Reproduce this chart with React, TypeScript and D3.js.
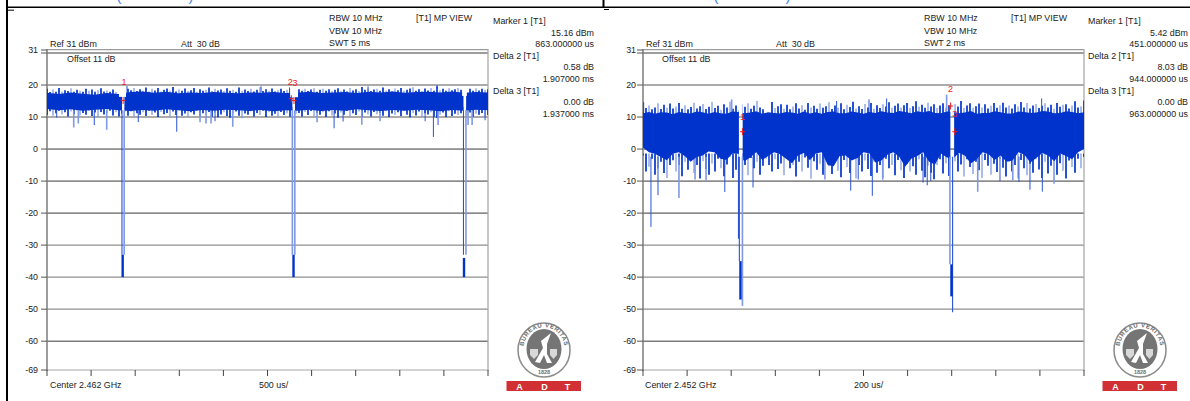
import React from "react";
import * as d3 from "d3";

const FONT = "'Liberation Sans', Arial, sans-serif";
const gridDb = [30, 20, 10, 0, -10, -20, -30, -40, -50, -60];
const darkGridDb = [30, 0, -10, -20, -60];
const yTickDb = [31, 20, 10, 0, -10, -20, -30, -40, -50, -60, -69];
const xDivisions = [0, 1, 2, 3, 4, 5, 6, 7, 8, 9, 10];

// Left trace (dB)
const leftTop = [18.8,17.8,18.6,17.9,19.1,18.0,18.4,18.1,19.0,17.9,18.5,18.2,17.9,18.8,18.2,18.6,17.9,18.4,19.0,18.0,18.3,17.9,18.6,17.8,17.2,16.5,19.7,18.8,18.4,19.1,18.1,18.7,18.2,19.2,17.9,18.8,18.3,19.1,18.0,18.5,18.9,18.2,19.4,18.0,18.6,18.2,18.9,18.1,18.4,19.1,17.9,18.7,18.2,18.5,19.2,18.0,18.8,18.3,18.6,18.1,19.0,18.2,18.5,17.9,19.2,18.2,18.6,18.1,18.8,18.0,18.5,19.3,18.1,18.7,18.2,18.9,18.0,18.4,18.8,18.1,18.5,19.2,19.1,17.5,18.7,18.2,18.8,18.1,18.6,19.0,17.9,18.5,18.8,18.2,18.7,18.1,18.5,19.0,18.2,18.6,18.0,19.1,18.3,18.7,18.1,19.4,18.5,18.9,18.1,18.6,18.8,18.2,19.2,18.3,18.7,18.0,18.9,18.4,19.1,18.2,18.5,18.9,19.3,18.2,18.7,18.1,18.9,18.3,19.1,18.2,19.6,18.4,18.8,18.2,19.0,18.4,18.7,19.1,18.5,17.2,17.0,18.8,18.2,19.0,18.3,18.8,18.5,18.7];
const leftBottom = [10.6,11.8,10.4,11.2,12.0,10.8,11.5,10.2,11.7,10.9,12.1,10.5,11.3,10.7,11.9,10.3,11.4,10.0,11.6,10.8,11.2,12.0,10.5,11.5,10.2,11.0,11.7,10.4,11.8,10.1,11.2,10.7,11.5,10.3,12.0,10.6,11.4,10.0,11.6,10.9,11.3,10.2,11.7,10.6,12.1,10.4,11.1,10.0,11.5,10.8,11.9,10.3,11.2,10.7,11.6,10.1,11.4,9.9,10.8,11.5,10.3,9.8,10.9,11.7,10.4,9.6,11.1,10.7,11.8,10.2,11.3,10.6,12.0,10.0,11.5,10.4,11.0,9.9,11.6,10.6,11.2,10.1,10.5,11.0,11.3,10.2,11.6,10.6,11.9,10.1,11.3,10.7,11.5,10.0,11.8,10.5,11.1,9.8,11.4,10.7,11.9,10.2,11.2,10.6,11.7,10.0,11.4,10.8,10.2,11.6,10.9,11.3,10.4,11.8,10.0,11.1,10.6,11.5,10.3,11.9,10.7,9.9,11.3,10.5,11.7,10.0,11.2,10.8,11.5,10.1,9.7,10.7,11.4,10.0,11.8,10.3,11.0,10.6,11.2,9.9,10.5,11.4,10.1,11.0,10.7,11.3,10.0,10.6];
const leftCoreTop = [17.6,17.2,17.7,17.3,17.0,17.5,17.2,17.8,18,17.6,17.9,17.4,17.7,17.5,17.8,17.6,17.4,17.7,17.6,17.8,17.5,17.6,17.9,17.5,17.7,17.8,17.5,17.9,17.7,18,17.6,17.8,17.9,17.7,18,17.6,17.8,17.7];
const leftCoreBottom = [12.5,12.1,12.4,12,12.3,12.5,12.1,11.9,12.2,12,12.4,12.1,11.8,12.2,12,12.3,12.1,11.9,12.2,11.8,12.1,12,12.3,11.9,12.2,12,12.4,12.1,11.9,12.2,12,12.3,12.1,11.8,12.2,12,12.3,12.1];

// Right trace (dB)
const rightTop = [14.6,12.8,13.6,12.4,13.0,14.3,12.5,13.8,12.9,14.2,12.7,13.3,14.4,12.6,13.7,12.4,13.1,14.5,12.7,13.4,14.1,12.5,13.2,14.7,12.8,13.5,12.3,14.0,13.0,14.8,12.6,13.6,12.2,13.9,13.2,14.3,12.6,13.5,15.0,13.0,12.4,11.0,11.2,14.7,12.8,13.4,14.0,12.6,13.8,12.4,13.3,14.3,12.7,13.7,12.3,14.4,13.0,13.5,12.6,14.2,12.9,13.4,14.6,12.5,13.6,12.9,14.3,12.4,13.8,13.1,14.8,12.7,13.4,12.5,14.1,13.0,14.4,12.6,13.7,12.8,14.0,13.3,14.6,12.9,13.5,14.2,13.0,13.7,14.4,12.8,13.4,14.9,13.2,13.8,12.9,14.5,13.3,14.0,12.8,13.6,14.3,13.0,13.7,12.6,14.1,13.3,15.0,12.8,13.6,14.3,12.9,13.4,14.2,13.0,14.0,12.7,13.5,14.4,12.9,13.7,14.5,13.0,13.6,12.7,14.0,13.3,14.7,13.0,14.4,12.7,13.6,14.1,12.8,13.5,14.3,13.0,13.8,12.6,14.4,13.2,13.8,14.0,12.7,13.6,14.9,13.0,13.4,15.2];
const rightBottom = [-2,-7,-5.5,-3,-8,-6,-4,-7.5,-9,-5,-3.5,-7,-5,-8.5,-4,-6.5,-3,-7.5,-5,-9.2,-3.8,-6.2,-8,-4.5,-7,-3,-6,-8.5,-4.8,-2.5,-9,-6.5,-3.6,-7.2,-5,-8.2,-2.8,-6,-4,-8,-5.2,-3,-5,-7,-3.2,-6.2,-4.5,-8.2,-3,-6,-5,-8.6,-4,-7,-2.6,-5.8,-9.3,-3.8,-6.5,-4.6,-8,-3.2,-5.4,-7.8,-4,-6.8,-8.8,-3.4,-5.6,-7.5,-3,-9.2,-5,-7,-3.6,-6.2,-8.4,-4,-7.4,-5,-9,-3,-6,-5,-8.2,-3.4,-6.6,-9,-4.6,-7,-5.4,-8,-3.2,-6.8,-8.8,-5.2,-7.4,-9.4,-5,-3.2,-7.6,-4.4,-8.4,-6,-3.8,-7,-4.8,-8.6,-3.2,-5.6,-7.8,-4,-6.6,-9,-3.4,-5.2,-8,-4.6,-7.2,-3,-5.8,-8.6,-4,-7,-5,-9.2,-3.4,-6,-8.2,-4.6,-7.4,-3.2,-6.4,-9,-4,-7.6,-5.2,-3,-8,-4.4,-6.8,-9.2,-3.6,-5.6,-7.4,-3,-6,-2.5];
const rightCoreTop = [11.2,11.6,11,11.5,11.4,10.9,11.6,11.3,11.1,11.7,11.5,11,11.6,11.2,11,11.7,11.6,11.2,11.4,11.8,11,11.5,11.3,11.1,11.6,11.4,11,11.7,11.1,11.5,11,11.6,11.7,11.2,11.2,11.7,11.4,11,11.6,11.3,11.8,11.4,11.3,11.9,11.6,11.2,11.8,11.5,11.9,11.3,11.2,11.7,11.6,11.2,11.4,11.9,11,11.3,11.3,11.8,11.5,11.1,11.1,11.7,11.6,11.3,11.4,11.9,11.7,11.2,11.3,11.8,11.6,11.2,11.5];
const rightCoreBottom = [0.5,-1,-1.5,-2.5,-3.5,-1.5,-1,-2.2,-4,-2.5,-2,-0.8,-1,-3,-3.4,-1.4,-1.5,-3.8,-2.6,-1,-3.4,-2.2,-1,-1.6,-3,-4.4,-2,-1.2,-3.5,-1.4,-1,-5,-5.4,-2.2,-2,-3.6,-2.8,-1,-1.4,-4.2,-3.6,-1.8,-1,-2.4,-5.5,-3,-2.2,-1,-4,-4.8,-1.4,-2.6,-3,-1.2,-2,-4.5,-3.2,-1,-1.6,-3.4,-2,-4,-3.6,-1,-1.8,-4.2,-2.8,-1.2,-2,-3.8,-1.4,-2.2,-3.2,-1,0];

// Isolated deep dips and tall peaks: time (us), level (dB), 1 = pale
const leftSpikeTime = [110,303,355,536,677,1035,1471,1735,1803,1860,1905,2106,3062,3255,3357,3569,3776,4287,4381,4434,4774,4820,4967,907,2427,2756,3640,4423];
const leftSpikeDb = [9.8,6.7,8,7.5,6,8.4,5.4,8.4,8,8,8.7,7,8.4,6.5,8.6,7.6,8.7,8.7,3.8,7.5,7.5,7.5,9,19.7,19.6,19,19.6,20];
const leftSpikePale = [0,1,1,0,1,0,0,1,1,1,0,1,1,0,0,1,1,0,0,1,1,1,0,0,0,0,0,0];
const rightSpikeTime = [36,68,163,236,286,371,499,825,942,976,1040,1087,1270,1289,1305,1518,1619,1677,1705,1755,1811,1864,3,402,878,1025,1105,1377,1808];
const rightSpikeDb = [-24.3,-14.4,-15.3,-9.5,-9.8,-13.4,-12,-9.5,-13,-9.5,-14.6,-9.6,-10.5,-11.3,-10,-13.3,-10,-9.7,-10.3,-12.7,-13.3,-10.8,14.5,15.5,15,15.5,15.8,17,15.8];
const rightSpikePale = [0,0,1,1,1,0,0,1,0,0,0,1,0,0,0,1,0,1,0,0,0,1,0,1,0,0,0,1,0];

// Pulse-off gaps (us) and the trace walls that drop into them: time, level reached, 1 = pale
const leftGapStart = [850, 2782, 4722];
const leftGapEnd = [878, 2812, 4752];
const leftNotchStart = [816, 2756, 4706];
const leftNotchEnd = [896, 2846, 4760];
const leftNotchDb = [16.3, 16.2, 16.6];
const leftWallTime = [850, 875, 2782, 2810, 4722, 4750];
const leftWallDb = [-33, -33, -33, -33, -33, -33];
const leftWallPale = [0, 1, 1, 1, 0, 1];
const leftFloorTime = [858, 2795, 4728];
const leftFloorTop = [-33, -33, -34];
const leftFloorBottom = [-40, -40, -40];
const rightGapStart = [435, 1394];
const rightGapEnd = [452, 1411];
const rightWallTime = [433, 437, 451, 1392, 1404];
const rightWallDb = [-28, -35, -49, -36, -51];
const rightWallPale = [0, 0, 1, 1, 0];
const rightFloorTime = [442, 1399];
const rightFloorTop = [-35, -36];
const rightFloorBottom = [-47, -46];

type PanelProps = {
  id: string; left: number; right: number; labelEnd: number; span: number;
  top: number[]; bottom: number[]; coreTop: number[]; coreBottom: number[];
  spikeTime: number[]; spikeDb: number[]; spikePale: number[];
  gapStart: number[]; gapEnd: number[];
  notchStart: number[]; notchEnd: number[]; notchDb: number[];
  wallTime: number[]; wallDb: number[]; wallPale: number[];
  floorTime: number[]; floorTop: number[]; floorBottom: number[];
  rbwX: number; viewX: number; legendX: number; legendEnd: number;
  refX: number; attX: number; offsetX: number; centerX: number; perDivX: number;
  swt: string; center: string; perDiv: string;
  readout: string[];
  markerTime: number[]; markerDb: number[]; markerLabelDb: number[]; markerLabelNudge: number[];
};

const DARK = "#0033cc";
const PALE = "#7f99e4";

function Txt({ x, y, anchor, children, fill = "#222", size = 8.9 }: any) {
  return <text x={x} y={y} textAnchor={anchor} fill={fill} fontSize={size} fontFamily={FONT}>{children}</text>;
}

function Logo({ cx, id }: { cx: number; id: string }) {
  const cy = 350;
  return (
    <g>
      <ellipse cx={cx} cy={cy} rx={26} ry={27} fill="#fff" stroke="#8a8a8a" strokeWidth={1.5} />
      <ellipse cx={cx} cy={cy - 1} rx={17.5} ry={20} fill="#757575" />
      <path id={id + "arc"} d={`M ${cx - 20} ${cy + 4} A 20.5 22 0 1 1 ${cx + 20} ${cy + 4}`} fill="none" />
      <text fontSize={6} fontWeight="bold" fill="#6e6e6e" fontFamily={FONT} letterSpacing={0.55}>
        <textPath href={`#${id}arc`} startOffset="50%" textAnchor="middle">BUREAU VERITAS</textPath>
      </text>
      <text x={cx} y={cy + 24} textAnchor="middle" fontSize={5.5} fontWeight="bold" fill="#6e6e6e" fontFamily={FONT}>1828</text>
      <path d={`M ${cx - 9} ${cy + 12} L ${cx - 1} ${cy - 2} L ${cx - 3} ${cy - 9} L ${cx + 7} ${cy - 17} L ${cx + 3} ${cy - 6} L ${cx + 3} ${cy + 4} L ${cx + 8} ${cy + 13} L ${cx + 3} ${cy + 13} L ${cx} ${cy + 5} L ${cx - 4} ${cy + 13} Z`} fill="#fff" />
      <path d={`M ${cx - 14} ${cy - 1} H ${cx - 6} V ${cy + 5} L ${cx - 10} ${cy + 9} L ${cx - 14} ${cy + 5} Z`} fill="#d8d8d8" />
      <path d={`M ${cx + 6} ${cy - 1} H ${cx + 13} V ${cy + 5} L ${cx + 9.5} ${cy + 9} L ${cx + 6} ${cy + 5} Z`} fill="#d8d8d8" />
      <rect x={cx - 37.5} y={381} width={74.5} height={10} fill="#d13034" />
      {[["A", -24.5], ["D", 0.5], ["T", 23.5]].map(([s, o]) => (
        <text key={s as string} x={cx + (o as number)} y={389.5} textAnchor="middle" fontSize={9} fontWeight="bold" fill="#fff" fontFamily={FONT}>{s}</text>
      ))}
    </g>
  );
}

function Panel(p: PanelProps) {
  const yScale = d3.scaleLinear().domain([30, -69]).range([53, 370]);
  const xScale = d3.scaleLinear().domain([0, p.span]).range([p.left, p.right]);
  const sampleTime = d3.scaleLinear().domain([0, p.top.length - 1]).range([0, p.span]);
  const coreTime = d3.scaleLinear().domain([0, p.coreTop.length - 1]).range([0, p.span]);
  const core = d3.area<number>()
    .x((_, i) => xScale(coreTime(i)))
    .y0((_, i) => yScale(p.coreBottom[i]))
    .y1((d) => yScale(d))
    .curve(d3.curveLinear);
  const midTop = d3.mean(p.coreTop)!;
  const midBottom = d3.mean(p.coreBottom)!;

  const edges = [0, ...p.gapEnd];
  const ends = [...p.gapStart, p.span];

  return (
    <g>
      <clipPath id={p.id + "clip"}>
        {edges.map((s, i) => (
          <rect key={i} x={xScale(s)} y={0} width={xScale(ends[i]) - xScale(s)} height={401} />
        ))}
      </clipPath>

      {gridDb.map((v) => (
        <line key={v} x1={p.left} x2={p.right} y1={yScale(v)} y2={yScale(v)}
          stroke={darkGridDb.includes(v) ? "#3a3a3a" : "#8f8f8f"} strokeWidth={darkGridDb.includes(v) ? 1 : 1.4} />
      ))}
      <line x1={p.left} x2={p.right} y1={49.6} y2={49.6} stroke="#9a9a9a" strokeWidth={1.2} />
      <line x1={p.left} x2={p.right} y1={yScale(-69)} y2={yScale(-69)} stroke="#a8a8a8" strokeWidth={1.2} />
      <line x1={p.left} x2={p.left} y1={49} y2={371} stroke="#7c7c7c" strokeWidth={1.5} />
      <line x1={p.right} x2={p.right} y1={49} y2={371} stroke="#ababab" strokeWidth={1.3} />

      {yTickDb.map((v) => (
        <g key={v}>
          <line x1={p.left - 6} x2={p.left} y1={v === 31 ? 50 : yScale(v)} y2={v === 31 ? 50 : yScale(v)} stroke="#555" />
          <Txt x={p.labelEnd} y={(v === 31 ? 50 : yScale(v)) + 3} anchor="end">{v}</Txt>
        </g>
      ))}
      <line x1={p.left - 6} x2={p.left} y1={53} y2={53} stroke="#555" />
      {xDivisions.map((d) => {
        const x = xScale((d * p.span) / 10);
        return <line key={d} x1={x} x2={x} y1={370} y2={376} stroke="#444" />;
      })}

      <g clipPath={`url(#${p.id}clip)`}>
        {p.top.map((v, i) => {
          const x = xScale(sampleTime(i));
          const pale = i % 3 === 2;
          return (
            <g key={i} stroke={pale ? PALE : DARK} strokeWidth={pale ? 1.3 : 1.7}>
              <line x1={x} x2={x} y1={yScale(v)} y2={yScale(midTop - 1)} />
              <line x1={x} x2={x} y1={yScale(p.bottom[i])} y2={yScale(midBottom + 1)} />
            </g>
          );
        })}
        {p.spikeTime.map((t, i) => {
          const x = xScale(t);
          const up = p.spikeDb[i] > midTop;
          return <line key={i} x1={x} x2={x} y1={yScale(p.spikeDb[i])}
            y2={yScale(up ? midTop : midBottom)}
            stroke={p.spikePale[i] ? PALE : "#2a52d4"} strokeWidth={p.spikePale[i] ? 1.6 : 1} />;
        })}
        <path d={core(p.coreTop) ?? ""} fill={DARK} />
      </g>

      {p.notchStart.map((s, i) => (
        <rect key={i} x={xScale(s)} y={yScale(20) + 1} width={xScale(p.notchEnd[i]) - xScale(s)}
          height={yScale(p.notchDb[i]) - yScale(20) - 1} fill="#fff" />
      ))}

      {p.wallTime.map((t, i) => (
        <line key={i} x1={xScale(t)} x2={xScale(t)} y1={yScale(midBottom)} y2={yScale(p.wallDb[i])}
          stroke={p.wallPale[i] ? PALE : "#2a52d4"} strokeWidth={p.wallPale[i] ? 1.6 : 1.1} />
      ))}
      {p.floorTime.map((t, i) => (
        <line key={i} x1={xScale(t)} x2={xScale(t)} y1={yScale(p.floorTop[i])} y2={yScale(p.floorBottom[i])}
          stroke={DARK} strokeWidth={2.4} />
      ))}

      {p.markerTime.map((t, i) => {
        const x = xScale(t);
        const y = yScale(p.markerDb[i]);
        return (
          <g key={i}>
            <path d={`M${x - 2.5} ${y}H${x + 2.5}M${x} ${y - 3.5}V${y + 3.5}`} stroke="#f01c1c" strokeWidth={1} fill="none" />
            <text x={x + p.markerLabelNudge[i]} y={yScale(p.markerLabelDb[i])} textAnchor="middle" fontSize={9} fill="#ee2020" fontFamily={FONT}>{i + 1}</text>
          </g>
        );
      })}

      <Txt x={p.rbwX} y={21}>RBW 10 MHz</Txt>
      <Txt x={p.rbwX} y={34}>VBW 10 MHz</Txt>
      <Txt x={p.rbwX} y={46}>{p.swt}</Txt>
      <Txt x={p.viewX} y={21}>[T1] MP VIEW</Txt>
      <Txt x={p.refX} y={47}>Ref 31 dBm</Txt>
      <Txt x={p.attX} y={47}>{"Att\u00a0\u00a030 dB"}</Txt>
      <Txt x={p.offsetX} y={62}>Offset 11 dB</Txt>
      <Txt x={p.centerX} y={388}>{p.center}</Txt>
      <Txt x={p.perDivX} y={388}>{p.perDiv}</Txt>
      {p.readout.map((s, i) => (
        <Txt key={i} x={i % 3 === 0 ? p.legendX : p.legendEnd} y={24 + i * 11.6} anchor={i % 3 === 0 ? "start" : "end"}>{s}</Txt>
      ))}
      <Logo cx={p.left + 497} id={p.id} />
    </g>
  );
}

export default function App() {
  return (
    <svg width={1190} height={401} viewBox="0 0 1190 401"
      style={{ position: "absolute", left: 0, top: 0, background: "#fff" }}>
      <rect width={1190} height={401} fill="#fff" />
      <Panel id="a" left={47} right={488} labelEnd={38} span={5000}
        top={leftTop} bottom={leftBottom} coreTop={leftCoreTop} coreBottom={leftCoreBottom}
        spikeTime={leftSpikeTime} spikeDb={leftSpikeDb} spikePale={leftSpikePale}
        gapStart={leftGapStart} gapEnd={leftGapEnd}
        notchStart={leftNotchStart} notchEnd={leftNotchEnd} notchDb={leftNotchDb}
        wallTime={leftWallTime} wallDb={leftWallDb} wallPale={leftWallPale}
        floorTime={leftFloorTime} floorTop={leftFloorTop} floorBottom={leftFloorBottom}
        rbwX={329} viewX={416} legendX={493} legendEnd={594}
        refX={50} attX={181} offsetX={67} centerX={50} perDivX={259}
        swt="SWT 5 ms" center="Center 2.462 GHz" perDiv="500 us/"
        readout={["Marker 1 [T1]", "15.16 dBm", "863.000000 us", "Delta 2 [T1]", "0.58 dB", "1.907000 ms", "Delta 3 [T1]", "0.00 dB", "1.937000 ms"]}
        markerTime={[863, 2770, 2800]} markerDb={[15.16, 15.74, 15.16]} markerLabelDb={[19.9, 19.9, 19.8]} markerLabelNudge={[1, -1, 1]} />
      <Panel id="b" left={643} right={1084} labelEnd={636} span={2000}
        top={rightTop} bottom={rightBottom} coreTop={rightCoreTop} coreBottom={rightCoreBottom}
        spikeTime={rightSpikeTime} spikeDb={rightSpikeDb} spikePale={rightSpikePale}
        gapStart={rightGapStart} gapEnd={rightGapEnd}
        notchStart={[]} notchEnd={[]} notchDb={[]}
        wallTime={rightWallTime} wallDb={rightWallDb} wallPale={rightWallPale}
        floorTime={rightFloorTime} floorTop={rightFloorTop} floorBottom={rightFloorBottom}
        rbwX={924} viewX={1011} legendX={1088} legendEnd={1188}
        refX={646} attX={776} offsetX={662} centerX={645} perDivX={854}
        swt="SWT 2 ms" center="Center 2.452 GHz" perDiv="200 us/"
        readout={["Marker 1 [T1]", "5.42 dBm", "451.000000 us", "Delta 2 [T1]", "8.03 dB", "944.000000 us", "Delta 3 [T1]", "0.00 dB", "963.000000 us"]}
        markerTime={[451, 1395, 1414]} markerDb={[5.42, 13.45, 5.42]} markerLabelDb={[9.2, 17.8, 10]} markerLabelNudge={[0, 0, 0]} />

      <path d="M7 0V401" stroke="#000" strokeWidth={2} fill="none" />
      <path d="M7 7.2H1190" stroke="#000" strokeWidth={1.4} fill="none" />
      <path d="M603.5 0V8" stroke="#000" strokeWidth={2} fill="none" />
      <path d="M8 10.2H14" stroke="#000" strokeWidth={1} fill="none" />
      <path d="M604 9.5H609" stroke="#000" strokeWidth={1} fill="none" />
      {[[119, "("], [191, ")"], [716, "("], [788, ")"]].map(([x, s]) => (
        <text key={x as number} x={x as number} y={1} textAnchor="middle" fontSize={15} fill="#3d83e6" fontFamily={FONT}>{s}</text>
      ))}
    </svg>
  );
}
